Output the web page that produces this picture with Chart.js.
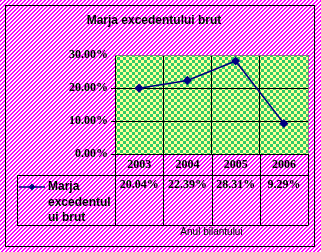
<!DOCTYPE html>
<html lang="ro">
<head>
<meta charset="UTF-8">
<title>Marja excedentului brut</title>
<script src="https://cdn.jsdelivr.net/npm/chart.js"></script>
<style>
  body { margin: 0; }
  #wrap { width: 321px; height: 252px; }
</style>
</head>
<body>
<div id="wrap"><canvas id="marjaChart"></canvas></div>
<script>
const years = ['2003', '2004', '2005', '2006'];
const marja = [20.04, 22.39, 28.31, 9.29];
const seriesName = ['Marja', 'excedentul', 'ui brut'];
const chartTitle = 'Marja excedentului brut';
const axisTitle = 'Anul bilantului';

const canvas = document.getElementById('marjaChart');
const ctx = canvas.getContext('2d');

// pattern fills like in the excel sheet
function makePattern(size, paint) {
    const c = document.createElement('canvas');
    c.width = size;
    c.height = size;
    paint(c.getContext('2d'));
    return ctx.createPattern(c, 'repeat');
}

const stripes = makePattern(4, g => {
    g.fillStyle = '#fff';
    g.fillRect(0, 0, 4, 4);
    g.fillStyle = '#ff00ff';
    for (let x = 0; x < 4; x++) {
        for (let y = 0; y < 4; y++) {
            if ((x + y) % 4 < 2) g.fillRect(x, y, 1, 1);
        }
    }
});

const checks = makePattern(6, g => {
    g.fillStyle = '#ffff99';
    g.fillRect(0, 0, 6, 6);
    g.fillStyle = '#33cc66';
    g.fillRect(0, 0, 3, 3);
    g.fillRect(3, 3, 3, 3);
});

const serif = '"Liberation Serif", "Times New Roman", serif';
const sans = '"Liberation Sans", Arial, sans-serif';

const sheet = {
    id: 'sheet',
    beforeDraw(chart) {
        const { ctx, chartArea: a, width, height } = chart;
        ctx.save();
        ctx.fillStyle = stripes;
        ctx.fillRect(0, 0, width, height);
        ctx.fillStyle = checks;
        ctx.fillRect(a.left, a.top, a.right - a.left, a.bottom - a.top);
        ctx.restore();
    },
    afterDraw(chart) {
        const { ctx, chartArea: a } = chart;
        const x = chart.scales.x;
        const half = (x.getPixelForValue(1) - x.getPixelForValue(0)) / 2;
        const row1 = a.bottom + 21;
        const row2 = a.bottom + 71;
        const legLeft = 17;
        const px = v => Math.round(v) + 0.5;

        ctx.save();
        ctx.strokeStyle = '#000';
        ctx.lineWidth = 1;

        // outer border
        ctx.strokeRect(5.5, 5.5, 309, 241);

        // data table lines
        ctx.beginPath();
        for (let i = 0; i <= years.length; i++) {
            const bx = i < years.length ? x.getPixelForValue(i) - half : x.getPixelForValue(i - 1) + half;
            ctx.moveTo(px(bx), a.bottom);
            ctx.lineTo(px(bx), px(row2));
        }
        ctx.moveTo(legLeft, px(row1));
        ctx.lineTo(a.right, px(row1));
        ctx.moveTo(legLeft, px(row2));
        ctx.lineTo(a.right, px(row2));
        ctx.moveTo(px(legLeft), px(row1));
        ctx.lineTo(px(legLeft), px(row2));
        ctx.stroke();

        // plot border top/right in grey
        ctx.strokeStyle = '#808080';
        ctx.beginPath();
        ctx.moveTo(a.left, px(a.top));
        ctx.lineTo(px(a.right), px(a.top));
        ctx.lineTo(px(a.right), a.bottom);
        ctx.stroke();

        // years and values
        ctx.fillStyle = '#000';
        ctx.textAlign = 'center';
        ctx.textBaseline = 'middle';
        ctx.font = 'bold 12px ' + serif;
        years.forEach((yr, i) => {
            const cx = x.getPixelForValue(i);
            ctx.fillText(yr, cx, a.bottom + 11);
            ctx.fillText(marja[i].toFixed(2) + '%', cx, row1 + 10);
        });

        // legend key
        const ly = row1 + 12;
        ctx.strokeStyle = '#000080';
        ctx.lineWidth = 1.5;
        ctx.beginPath();
        ctx.moveTo(19, ly);
        ctx.lineTo(45, ly);
        ctx.stroke();
        ctx.fillStyle = '#000080';
        ctx.beginPath();
        ctx.moveTo(32, ly - 3.5);
        ctx.lineTo(35.5, ly);
        ctx.lineTo(32, ly + 3.5);
        ctx.lineTo(28.5, ly);
        ctx.closePath();
        ctx.fill();

        ctx.fillStyle = '#000';
        ctx.textAlign = 'left';
        ctx.font = 'bold 12px ' + sans;
        seriesName.forEach((s, i) => ctx.fillText(s, 48, ly + i * 15.5));

        // axis title
        ctx.textAlign = 'center';
        ctx.font = '10px ' + sans;
        ctx.fillText(axisTitle, (a.left + a.right) / 2, 232);
        ctx.restore();
    }
};

new Chart(ctx, {
    type: 'line',
    data: {
        labels: years,
        datasets: [{
            label: seriesName.join(''),
            data: marja,
            borderColor: '#000080',
            backgroundColor: '#000080',
            borderWidth: 1.5,
            pointStyle: 'rectRot',
            pointRadius: 3.5,
            pointHoverRadius: 3.5,
            tension: 0
        }]
    },
    options: {
        responsive: true,
        maintainAspectRatio: false,
        animation: false,
        events: [],
        layout: {
            padding: { left: 0, right: 13, top: 0, bottom: 98 }
        },
        plugins: {
            legend: { display: false },
            tooltip: { enabled: false },
            title: {
                display: true,
                text: chartTitle,
                color: '#000',
                font: { family: sans, size: 12, weight: 'bold' },
                padding: { top: 13, bottom: 28 }
            }
        },
        scales: {
            x: {
                offset: true,
                grid: {
                    offset: true,
                    color: '#000',
                    drawTicks: false
                },
                border: { display: false },
                ticks: { display: false }
            },
            y: {
                min: 0,
                max: 30,
                afterFit(scale) { scale.width = 115; },
                grid: {
                    color: c => c.tick && c.tick.value === 30 ? 'rgba(0,0,0,0)' : '#000',
                    tickLength: 4
                },
                border: { color: '#000' },
                ticks: {
                    stepSize: 10,
                    padding: 3,
                    color: '#000',
                    font: { family: serif, size: 12, weight: 'bold' },
                    callback: v => v.toFixed(2) + '%'
                }
            }
        }
    },
    plugins: [sheet]
});
</script>
</body>
</html>
